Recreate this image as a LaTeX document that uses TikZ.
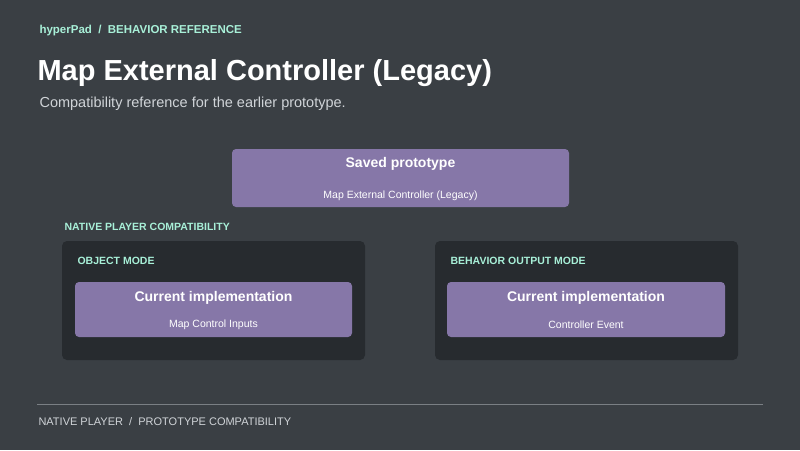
\documentclass[tikz,border=0pt]{standalone}
\usepackage{fontspec}
\setmainfont{Liberation Sans}
\begin{document}
\definecolor{bg}{HTML}{3A3F44}
\definecolor{panel}{HTML}{272B2F}
\definecolor{purp}{HTML}{8677A8}
\definecolor{teal}{HTML}{A8F0D8}
\definecolor{sub}{HTML}{D0D4D8}
\definecolor{rule}{HTML}{7A7F84}
\begin{tikzpicture}[x=1pt,y=-1pt,
  box/.style={fill=purp,rounded corners=4pt,draw=none},
  pan/.style={fill=panel,rounded corners=5pt,draw=none},
  ttl/.style={text=white,font=\fontsize{14}{16}\selectfont\bfseries},
  st/.style={text=white,font=\fontsize{10.5}{12}\selectfont},
  lab/.style={text=teal,font=\fontsize{10.5}{12}\selectfont\bfseries,anchor=west}]
\fill[bg] (0,0) rectangle (800,450);
\useasboundingbox (0,0) rectangle (800,450);
\node[lab,font=\fontsize{11.5}{13}\selectfont\bfseries] (hdr) at (36,31) {hyperPad~~/~~BEHAVIOR REFERENCE};
\node[anchor=west,text=white,font=\fontsize{29}{32}\selectfont\bfseries] (title) at (34,73) {Map External Controller (Legacy)};
\node[anchor=west,text=sub,font=\fontsize{14.5}{16}\selectfont] (subt) at (36,104) {Compatibility reference for the earlier prototype.};
\fill[box] (232,149) rectangle (569,207);
\node[ttl] (s1) at (400.5,164) {Saved prototype};
\node[st] (s2) at (400.5,196) {Map External Controller (Legacy)};
\node[lab] (npc) at (61,227) {NATIVE PLAYER COMPATIBILITY};
\fill[pan] (62,241) rectangle (365,360);
\fill[pan] (435,241) rectangle (738,360);
\node[lab] (om) at (74,261) {OBJECT MODE};
\node[lab] (bom) at (447,261) {BEHAVIOR OUTPUT MODE};
\fill[box] (75,282) rectangle (352,337);
\fill[box] (447,282) rectangle (725,337);
\node[ttl] (c1) at (213.5,298) {Current implementation};
\node[st] (c1s) at (213.5,325) {Map Control Inputs};
\node[ttl] (c2) at (586,298) {Current implementation};
\node[st] (c2s) at (586,325) {Controller Event};
\draw[rule,line width=0.8pt] (37,404) -- (763,404);
\node[anchor=west,text=sub,font=\fontsize{11}{13}\selectfont] (ft) at (35,422) {NATIVE PLAYER~~/~~PROTOTYPE COMPATIBILITY};
\end{tikzpicture}
\end{document}
